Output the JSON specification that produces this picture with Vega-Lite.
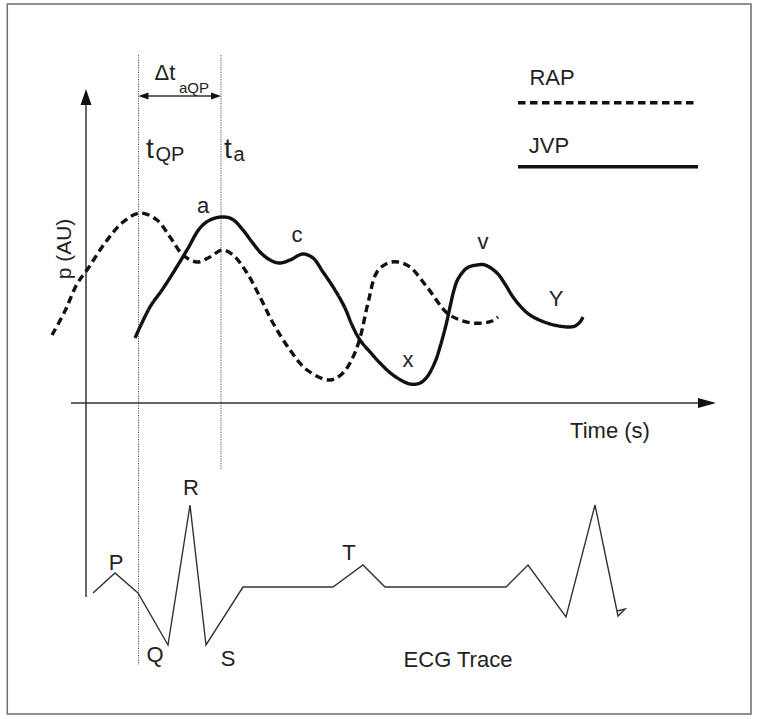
{
  "$schema": "https://vega.github.io/schema/vega-lite/v6.json",
  "width": 758,
  "height": 719,
  "padding": 0,
  "autosize": {"type": "none"},
  "background": "white",
  "config": {"view": {"stroke": null}},
  "datasets": {
    "frame": [{"x": 7.3, "x2": 751, "y": 4, "y2": 714}],
    "axes": [
      {"x": 86, "y": 104, "x2": 86, "y2": 597},
      {"x": 71, "y": 403, "x2": 700, "y2": 403},
      {"x": 141, "y": 96, "x2": 218, "y2": 96}
    ],
    "guides": [
      {"x": 138.5, "y": 55, "x2": 138.5, "y2": 665},
      {"x": 221, "y": 55, "x2": 221, "y2": 470}
    ],
    "arrows": [
      {"dir": "up", "x": 86, "y": 89},
      {"dir": "right", "x": 716, "y": 403},
      {"dir": "left", "x": 138.5, "y": 96},
      {"dir": "right2", "x": 221, "y": 96}
    ],
    "legendlines": [
      {"series": "RAP", "x": 518, "x2": 698, "y": 102.7},
      {"series": "JVP", "x": 518, "x2": 698, "y": 166.7}
    ],
    "curves": [
      {"series": "RAP", "i": 0, "x": 52, "y": 335},
      {"series": "RAP", "i": 1, "x": 65, "y": 311},
      {"series": "RAP", "i": 2, "x": 77, "y": 284},
      {"series": "RAP", "i": 3, "x": 87, "y": 270},
      {"series": "RAP", "i": 4, "x": 105, "y": 243},
      {"series": "RAP", "i": 5, "x": 123, "y": 222},
      {"series": "RAP", "i": 6, "x": 140, "y": 213},
      {"series": "RAP", "i": 7, "x": 157, "y": 220},
      {"series": "RAP", "i": 8, "x": 170, "y": 237},
      {"series": "RAP", "i": 9, "x": 183, "y": 255},
      {"series": "RAP", "i": 10, "x": 197, "y": 262},
      {"series": "RAP", "i": 11, "x": 210, "y": 257},
      {"series": "RAP", "i": 12, "x": 222, "y": 250},
      {"series": "RAP", "i": 13, "x": 233, "y": 255},
      {"series": "RAP", "i": 14, "x": 247, "y": 273},
      {"series": "RAP", "i": 15, "x": 260, "y": 297},
      {"series": "RAP", "i": 16, "x": 273, "y": 323},
      {"series": "RAP", "i": 17, "x": 290, "y": 350},
      {"series": "RAP", "i": 18, "x": 307, "y": 370},
      {"series": "RAP", "i": 19, "x": 330, "y": 380},
      {"series": "RAP", "i": 20, "x": 343, "y": 373},
      {"series": "RAP", "i": 21, "x": 353, "y": 357},
      {"series": "RAP", "i": 22, "x": 360, "y": 338},
      {"series": "RAP", "i": 23, "x": 368, "y": 303},
      {"series": "RAP", "i": 24, "x": 377, "y": 272},
      {"series": "RAP", "i": 25, "x": 388, "y": 263},
      {"series": "RAP", "i": 26, "x": 398, "y": 262},
      {"series": "RAP", "i": 27, "x": 410, "y": 267},
      {"series": "RAP", "i": 28, "x": 427, "y": 287},
      {"series": "RAP", "i": 29, "x": 447, "y": 313},
      {"series": "RAP", "i": 30, "x": 460, "y": 320},
      {"series": "RAP", "i": 31, "x": 472, "y": 323},
      {"series": "RAP", "i": 32, "x": 483, "y": 323},
      {"series": "RAP", "i": 33, "x": 492, "y": 321},
      {"series": "RAP", "i": 34, "x": 498, "y": 317},
      {"series": "JVP", "i": 0, "x": 135, "y": 338},
      {"series": "JVP", "i": 1, "x": 150, "y": 307},
      {"series": "JVP", "i": 2, "x": 162, "y": 290},
      {"series": "JVP", "i": 3, "x": 173, "y": 273},
      {"series": "JVP", "i": 4, "x": 187, "y": 250},
      {"series": "JVP", "i": 5, "x": 200, "y": 228},
      {"series": "JVP", "i": 6, "x": 210, "y": 220},
      {"series": "JVP", "i": 7, "x": 222, "y": 217},
      {"series": "JVP", "i": 8, "x": 232, "y": 219},
      {"series": "JVP", "i": 9, "x": 243, "y": 230},
      {"series": "JVP", "i": 10, "x": 252, "y": 242},
      {"series": "JVP", "i": 11, "x": 262, "y": 254},
      {"series": "JVP", "i": 12, "x": 272, "y": 261},
      {"series": "JVP", "i": 13, "x": 280, "y": 263},
      {"series": "JVP", "i": 14, "x": 290, "y": 260},
      {"series": "JVP", "i": 15, "x": 303, "y": 254},
      {"series": "JVP", "i": 16, "x": 313, "y": 258},
      {"series": "JVP", "i": 17, "x": 323, "y": 272},
      {"series": "JVP", "i": 18, "x": 335, "y": 290},
      {"series": "JVP", "i": 19, "x": 345, "y": 308},
      {"series": "JVP", "i": 20, "x": 352, "y": 325},
      {"series": "JVP", "i": 21, "x": 360, "y": 340},
      {"series": "JVP", "i": 22, "x": 370, "y": 352},
      {"series": "JVP", "i": 23, "x": 380, "y": 363},
      {"series": "JVP", "i": 24, "x": 393, "y": 375},
      {"series": "JVP", "i": 25, "x": 410, "y": 384},
      {"series": "JVP", "i": 26, "x": 420, "y": 383},
      {"series": "JVP", "i": 27, "x": 427, "y": 377},
      {"series": "JVP", "i": 28, "x": 435, "y": 362},
      {"series": "JVP", "i": 29, "x": 440, "y": 347},
      {"series": "JVP", "i": 30, "x": 446, "y": 325},
      {"series": "JVP", "i": 31, "x": 450, "y": 307},
      {"series": "JVP", "i": 32, "x": 454, "y": 290},
      {"series": "JVP", "i": 33, "x": 458, "y": 279},
      {"series": "JVP", "i": 34, "x": 467, "y": 268},
      {"series": "JVP", "i": 35, "x": 477, "y": 265},
      {"series": "JVP", "i": 36, "x": 485, "y": 265},
      {"series": "JVP", "i": 37, "x": 497, "y": 273},
      {"series": "JVP", "i": 38, "x": 505, "y": 284},
      {"series": "JVP", "i": 39, "x": 513, "y": 297},
      {"series": "JVP", "i": 40, "x": 522, "y": 308},
      {"series": "JVP", "i": 41, "x": 530, "y": 315},
      {"series": "JVP", "i": 42, "x": 547, "y": 323},
      {"series": "JVP", "i": 43, "x": 567, "y": 327},
      {"series": "JVP", "i": 44, "x": 575, "y": 326},
      {"series": "JVP", "i": 45, "x": 580, "y": 322},
      {"series": "JVP", "i": 46, "x": 583, "y": 317}
    ],
    "ecg": [
      {"i": 0, "x": 93, "y": 593},
      {"i": 1, "x": 115, "y": 573},
      {"i": 2, "x": 138, "y": 593},
      {"i": 3, "x": 168, "y": 645},
      {"i": 4, "x": 190, "y": 505},
      {"i": 5, "x": 206, "y": 645},
      {"i": 6, "x": 243, "y": 587},
      {"i": 7, "x": 333, "y": 587},
      {"i": 8, "x": 363, "y": 565},
      {"i": 9, "x": 385, "y": 587},
      {"i": 10, "x": 506, "y": 587},
      {"i": 11, "x": 528, "y": 565},
      {"i": 12, "x": 566, "y": 617},
      {"i": 13, "x": 595, "y": 505},
      {"i": 14, "x": 618, "y": 616},
      {"i": 15, "x": 625, "y": 609},
      {"i": 16, "x": 617, "y": 611}
    ],
    "labels": [
      {"text": "RAP", "x": 552, "y": 85},
      {"text": "JVP", "x": 549, "y": 153},
      {"text": "Time (s)", "x": 610, "y": 438},
      {"text": "Δt", "x": 165, "y": 80},
      {"text": "a", "x": 203, "y": 213},
      {"text": "c", "x": 297, "y": 242},
      {"text": "x", "x": 408, "y": 367},
      {"text": "v", "x": 483, "y": 249},
      {"text": "Y", "x": 556, "y": 306},
      {"text": "P", "x": 116, "y": 570},
      {"text": "Q", "x": 155, "y": 662},
      {"text": "R", "x": 191, "y": 495},
      {"text": "S", "x": 228, "y": 666},
      {"text": "T", "x": 349, "y": 560},
      {"text": "ECG Trace", "x": 458, "y": 667}
    ],
    "small": [{"text": "aQP", "x": 194, "y": 93}],
    "big": [
      {"text": "t", "x": 150, "y": 158},
      {"text": "t", "x": 228, "y": 158}
    ],
    "mid": [
      {"text": "QP", "x": 170, "y": 161},
      {"text": "a", "x": 239, "y": 161}
    ],
    "ylabel": [{"text": "p (AU)", "x": 65, "y": 249}]
  },
  "encoding": {
    "x": {"field": "x", "type": "quantitative", "scale": {"domain": [0, 758], "nice": false, "zero": false}, "axis": null},
    "y": {"field": "y", "type": "quantitative", "scale": {"domain": [0, 719], "reverse": true, "nice": false, "zero": false}, "axis": null}
  },
  "layer": [
    {
      "data": {"name": "frame"},
      "mark": {"type": "rect", "fill": null, "fillOpacity": 0, "stroke": "#6e6e6e", "strokeWidth": 1.5},
      "encoding": {"x2": {"field": "x2"}, "y2": {"field": "y2"}}
    },
    {
      "data": {"name": "guides"},
      "mark": {"type": "rule", "color": "#555", "strokeWidth": 1, "strokeDash": [1.2, 1.2]},
      "encoding": {"x2": {"field": "x2"}, "y2": {"field": "y2"}}
    },
    {
      "data": {"name": "axes"},
      "mark": {"type": "rule", "color": "#333", "strokeWidth": 1.5},
      "encoding": {"x2": {"field": "x2"}, "y2": {"field": "y2"}}
    },
    {
      "data": {"name": "arrows"},
      "mark": {"type": "point", "filled": true, "opacity": 1, "color": "#111", "strokeWidth": 0, "size": 400},
      "encoding": {
        "shape": {"field": "dir", "type": "nominal", "legend": null,
          "scale": {"domain": ["up", "right", "left", "right2"],
            "range": ["M0,0L-0.55,1.6L0.55,1.6Z", "M0,0L-1.8,-0.5L-1.8,0.5Z", "M0,0L1,-0.35L1,0.35Z", "M0,0L-1,-0.35L-1,0.35Z"]}}
      }
    },
    {
      "data": {"name": "ecg"},
      "mark": {"type": "line", "color": "#333", "strokeWidth": 1.4, "interpolate": "linear"},
      "encoding": {"order": {"field": "i", "type": "quantitative"}}
    },
    {
      "data": {"name": "curves"},
      "mark": {"type": "line", "color": "#111", "strokeWidth": 3.4, "interpolate": "catmull-rom", "strokeCap": "butt"},
      "encoding": {
        "order": {"field": "i", "type": "quantitative"},
        "strokeDash": {"field": "series", "type": "nominal", "legend": null,
          "scale": {"domain": ["RAP", "JVP"], "range": [[7.5, 4.5], [1, 0]]}}
      }
    },
    {
      "data": {"name": "legendlines"},
      "mark": {"type": "rule", "color": "#111", "strokeWidth": 3.4, "strokeCap": "butt"},
      "encoding": {
        "x2": {"field": "x2"},
        "strokeDash": {"field": "series", "type": "nominal", "legend": null,
          "scale": {"domain": ["RAP", "JVP"], "range": [[7.5, 4.5], [1, 0]]}}
      }
    },
    {
      "data": {"name": "labels"},
      "mark": {"type": "text", "font": "Liberation Sans", "color": "#222", "align": "center", "baseline": "alphabetic", "fontSize": 22},
      "encoding": {"text": {"field": "text"}}
    },
    {
      "data": {"name": "small"},
      "mark": {"type": "text", "font": "Liberation Sans", "color": "#222", "align": "center", "baseline": "alphabetic", "fontSize": 15},
      "encoding": {"text": {"field": "text"}}
    },
    {
      "data": {"name": "mid"},
      "mark": {"type": "text", "font": "Liberation Sans", "color": "#222", "align": "center", "baseline": "alphabetic", "fontSize": 20},
      "encoding": {"text": {"field": "text"}}
    },
    {
      "data": {"name": "big"},
      "mark": {"type": "text", "font": "Liberation Sans", "color": "#222", "align": "center", "baseline": "alphabetic", "fontSize": 28},
      "encoding": {"text": {"field": "text"}}
    },
    {
      "data": {"name": "ylabel"},
      "mark": {"type": "text", "font": "Liberation Sans", "color": "#222", "align": "center", "baseline": "middle", "angle": 270, "fontSize": 21},
      "encoding": {"text": {"field": "text"}}
    }
  ]
}
